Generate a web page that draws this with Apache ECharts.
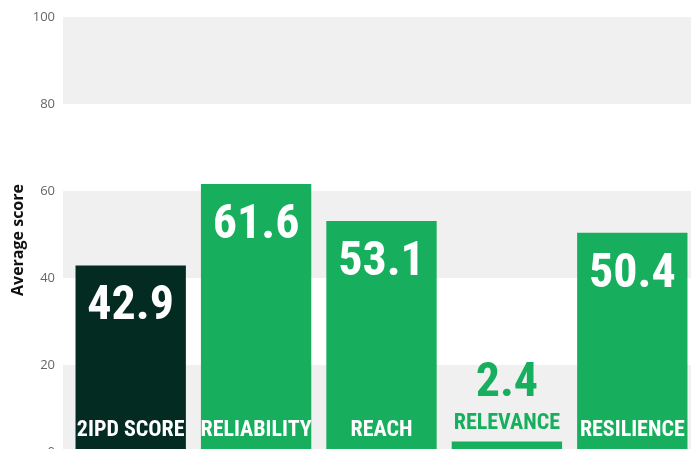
<!DOCTYPE html>
<html>
<head>
<meta charset="utf-8">
<script src="https://cdn.jsdelivr.net/npm/echarts@6/dist/echarts.min.js"></script>
<style>
html,body{margin:0;padding:0;background:#fff;overflow:hidden;}
#chart{width:100vw;height:100vh;}
</style>
</head>
<body>
<div id="chart"></div>
<script>
const categories = ['2IPD SCORE', 'RELIABILITY', 'REACH', 'RELEVANCE', 'RESILIENCE'];
const values = [42.9, 61.6, 53.1, 2.4, 50.4];
const barColors = ['#032B22', '#17AF5E', '#17AF5E', '#17AF5E', '#17AF5E'];
const yTicks = [0, 20, 40, 60, 80, 100];

const GREEN = '#17AF5E';
const condensed = "'Roboto Condensed', 'Liberation Sans Narrow', sans-serif";

const chart = echarts.init(document.getElementById('chart'), null, {renderer: 'canvas'});

const data = values.map((v, i) => {
  const item = {value: v, itemStyle: {color: barColors[i]}};
  if (v < 10) {
    item.label = {position: 'top', distance: 34, color: GREEN};
  }
  return item;
});

chart.setOption({
  animation: false,
  grid: [
    {left: 63, right: 0, top: 17, bottom: -3, containLabel: false, outerBoundsMode: 'none'},
    {left: 68, right: -4, top: 17, bottom: -3, containLabel: false, outerBoundsMode: 'none'}
  ],
  xAxis: [
    {gridIndex: 0, type: 'category', data: categories, show: false},
    {
      gridIndex: 1,
      type: 'category',
      data: categories,
      z: 10,
      axisLine: {show: false},
      axisTick: {show: false},
      axisLabel: {
        inside: true,
        margin: 11,
        interval: 0,
        fontFamily: condensed,
        fontWeight: 'bold',
        fontSize: 22,
        formatter: (v) => (values[categories.indexOf(v)] < 10 ? '{g|' + v + '}' : '{w|' + v + '}'),
        rich: {
          w: {color: '#ffffff', fontFamily: condensed, fontWeight: 'bold', fontSize: 22},
          g: {color: GREEN, fontFamily: condensed, fontWeight: 'bold', fontSize: 22, padding: [0, 0, 7, 0]}
        }
      }
    }
  ],
  yAxis: [
    {
      gridIndex: 0,
      type: 'value',
      min: 0,
      max: 100,
      interval: 20,
      name: 'Average score',
      nameLocation: 'middle',
      nameGap: 37,
      nameMoveOverlap: false,
      nameRotate: 90,
      nameTextStyle: {fontFamily: "'Open Sans', sans-serif", fontWeight: 'bold', fontSize: 16, color: '#111', padding: [0, 11, 0, 0]},
      axisLine: {show: false},
      axisTick: {show: false},
      splitLine: {show: false},
      splitArea: {show: true, areaStyle: {color: ['#F0F0F0', '#FFFFFF']}},
      axisLabel: {
        color: '#666',
        fontSize: 13,
        fontFamily: "'Open Sans', sans-serif",
        margin: 8,
        formatter: (v) => (yTicks.indexOf(v) >= 0 ? String(v) : '')
      }
    },
    {gridIndex: 1, type: 'value', min: 0, max: 100, interval: 20, show: false}
  ],
  series: [{
    type: 'bar',
    xAxisIndex: 1,
    yAxisIndex: 1,
    data: data,
    barCategoryGap: '12%',
    label: {
      show: true,
      position: 'insideTop',
      distance: 18,
      color: '#ffffff',
      fontFamily: condensed,
      fontWeight: 'bold',
      fontSize: 48,
      formatter: (p) => p.value.toFixed(1)
    }
  }]
});
</script>
</body>
</html>
